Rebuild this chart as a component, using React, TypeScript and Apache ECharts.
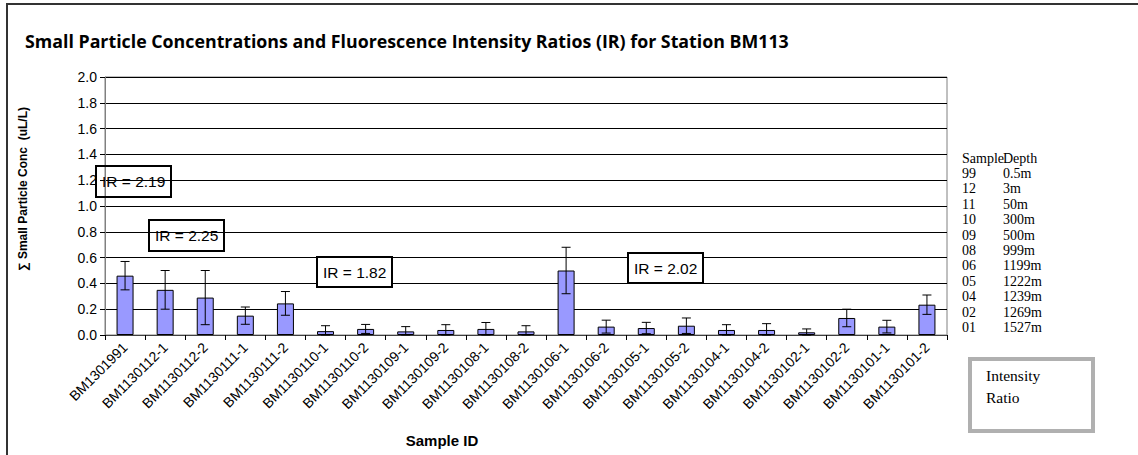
import { useEffect, useRef } from "react";
import * as echarts from "echarts";

const categories = [
  "BM1301991", "BM1130112-1", "BM1130112-2", "BM1130111-1", "BM1130111-2",
  "BM1130110-1", "BM1130110-2", "BM1130109-1", "BM1130109-2", "BM1130108-1",
  "BM1130108-2", "BM1130106-1", "BM1130106-2", "BM1130105-1", "BM1130105-2",
  "BM1130104-1", "BM1130104-2", "BM1130102-1", "BM1130102-2", "BM1130101-1",
  "BM1130101-2",
];
const concValues = [
  0.46, 0.35, 0.29, 0.15, 0.245, 0.03, 0.047, 0.028, 0.039, 0.047, 0.028,
  0.5, 0.065, 0.054, 0.072, 0.039, 0.039, 0.021, 0.132, 0.065, 0.235,
];
const errValues = [
  0.11, 0.15, 0.21, 0.067, 0.092, 0.042, 0.035, 0.037, 0.041, 0.05, 0.044,
  0.18, 0.05, 0.044, 0.06, 0.041, 0.049, 0.026, 0.068, 0.049, 0.075,
];
const irLabels = ["IR = 2.19", "IR = 2.25", "IR = 1.82", "IR = 2.02"];
const sampleCodes = ["99", "12", "11", "10", "09", "08", "06", "05", "04", "02", "01"];
const sampleDepths = ["0.5m", "3m", "50m", "300m", "500m", "999m", "1199m", "1222m", "1239m", "1269m", "1527m"];

const titleText = "Small Particle Concentrations and Fluorescence Intensity Ratios (IR) for Station BM113";
const yAxisTitle = "\u2211 Small Particle Conc  (uL/L)";
const xAxisTitle = "Sample ID";

const SANS = "'Liberation Sans', Arial, sans-serif";
const SERIF = "'Liberation Serif', 'Times New Roman', serif";

export default function App() {
  const ref = useRef<HTMLDivElement>(null);
  useEffect(() => {
    if (!ref.current) return;
    const chart = echarts.init(ref.current, null, { renderer: "svg" });

    const irBoxes = [
      { label: irLabels[0], x: 96, y: 166, w: 75, h: 31, fill: "transparent" },
      { label: irLabels[1], x: 149, y: 220, w: 75, h: 31, fill: "transparent" },
      { label: irLabels[2], x: 317, y: 257, w: 75, h: 30, fill: "#fff" },
      { label: irLabels[3], x: 628, y: 253, w: 75, h: 30, fill: "#fff" },
    ];

    const graphics: any[] = [
      {
        type: "rect",
        shape: { x: 7, y: 4, width: 1140, height: 470 },
        style: { fill: "none", stroke: "#333", lineWidth: 2 },
        silent: true,
      },
      {
        type: "text",
        x: 25,
        y: 41,
        style: {
          text: titleText,
          font: "bold 17.8px 'Open Sans', sans-serif",
          fill: "#000",
          verticalAlign: "middle",
        },
      },
      {
        type: "text",
        x: 23,
        y: 189,
        rotation: Math.PI / 2,
        style: {
          text: yAxisTitle,
          font: "bold 12px " + SANS,
          fill: "#000",
          align: "center",
          verticalAlign: "middle",
        },
      },
      {
        type: "text",
        x: 442,
        y: 440,
        style: {
          text: xAxisTitle,
          font: "bold 15px " + SANS,
          fill: "#000",
          align: "center",
          verticalAlign: "middle",
        },
      },
    ];

    irBoxes.forEach((b) => {
      graphics.push({
        type: "rect",
        z: 100,
        shape: { x: b.x, y: b.y, width: b.w, height: b.h },
        style: { fill: b.fill, stroke: "#000", lineWidth: 2 },
      });
      graphics.push({
        type: "text",
        z: 101,
        x: b.x + 6,
        y: b.y + b.h / 2,
        style: {
          text: b.label,
          font: "15.5px " + SANS,
          fill: "#000",
          align: "left",
          verticalAlign: "middle",
        },
      });
    });

    // depth table
    const tableX1 = 962;
    const tableX2 = 1003;
    const rowY0 = 158;
    const rowH = 15.4;
    const tFont = "14px " + SERIF;
    graphics.push({
      type: "text",
      x: tableX1,
      y: rowY0,
      style: { text: "Sample", font: tFont, fill: "#000", verticalAlign: "middle" },
    });
    graphics.push({
      type: "text",
      x: tableX2,
      y: rowY0,
      style: { text: "Depth", font: tFont, fill: "#000", verticalAlign: "middle" },
    });
    sampleCodes.forEach((c, i) => {
      graphics.push({
        type: "text",
        x: tableX1,
        y: rowY0 + rowH * (i + 1),
        style: { text: c, font: tFont, fill: "#000", verticalAlign: "middle" },
      });
      graphics.push({
        type: "text",
        x: tableX2,
        y: rowY0 + rowH * (i + 1),
        style: { text: sampleDepths[i], font: tFont, fill: "#000", verticalAlign: "middle" },
      });
    });

    // Intensity ratio box
    graphics.push({
      type: "rect",
      shape: { x: 970, y: 359, width: 123, height: 72 },
      style: { fill: "#fff", stroke: "#b0b0b0", lineWidth: 4 },
    });
    graphics.push({
      type: "text",
      x: 986,
      y: 375,
      style: { text: "Intensity", font: "15.5px " + SERIF, fill: "#000", verticalAlign: "middle" },
    });
    graphics.push({
      type: "text",
      x: 986,
      y: 397,
      style: { text: "Ratio", font: "15.5px " + SERIF, fill: "#000", verticalAlign: "middle" },
    });

    chart.setOption({
      animation: false,
      backgroundColor: "#fff",
      grid: {
        left: 105,
        right: 191,
        top: 77,
        bottom: 120,
        show: true,
        borderColor: "#808080",
        borderWidth: 1,
        backgroundColor: "transparent",
      },
      xAxis: {
        type: "category",
        data: categories,
        boundaryGap: true,
        axisLine: { show: true, lineStyle: { color: "#404040", width: 1 } },
        axisTick: { show: true, alignWithLabel: false, length: 5, lineStyle: { color: "#000" } },
        axisLabel: {
          rotate: 45,
          interval: 0,
          margin: 10,
          color: "#000",
          fontSize: 14,
          fontFamily: SANS,
        },
        splitLine: { show: false },
      },
      yAxis: {
        type: "value",
        min: 0,
        max: 2,
        interval: 0.2,
        axisLine: { show: true, lineStyle: { color: "#808080", width: 1 } },
        axisTick: { show: true, inside: false, length: 5, lineStyle: { color: "#000" } },
        axisLabel: {
          formatter: (v: number) => v.toFixed(1),
          color: "#000",
          fontSize: 14,
          margin: 8,
          fontFamily: SANS,
        },
        splitLine: { show: true, lineStyle: { color: "#000", width: 1 } },
      },
      series: [
        {
          type: "bar",
          data: concValues,
          barWidth: 17,
          itemStyle: { color: "#9999FF", borderColor: "#000", borderWidth: 1 },
          z: 2,
        },
        {
          type: "custom",
          z: 5,
          data: categories.map((_, i) => [i, concValues[i], errValues[i]]),
          encode: { x: 0, y: 1 },
          renderItem: (_params: any, api: any) => {
            const idx = api.value(0);
            const v = api.value(1);
            const e = api.value(2);
            const top = api.coord([idx, v + e]);
            const bot = api.coord([idx, Math.max(0, v - e)]);
            const hw = 4.5;
            const st = { stroke: "#000", lineWidth: 1 };
            return {
              type: "group",
              children: [
                { type: "line", shape: { x1: top[0], y1: top[1], x2: bot[0], y2: bot[1] }, style: st },
                { type: "line", shape: { x1: top[0] - hw, y1: top[1], x2: top[0] + hw, y2: top[1] }, style: st },
                { type: "line", shape: { x1: bot[0] - hw, y1: bot[1], x2: bot[0] + hw, y2: bot[1] }, style: st },
              ],
            };
          },
        },
      ],
      graphic: graphics,
    });

    return () => chart.dispose();
  }, []);

  return (
    <div
      ref={ref}
      style={{ position: "fixed", left: 0, top: 0, width: 1138, height: 455, background: "#fff" }}
    />
  );
}
